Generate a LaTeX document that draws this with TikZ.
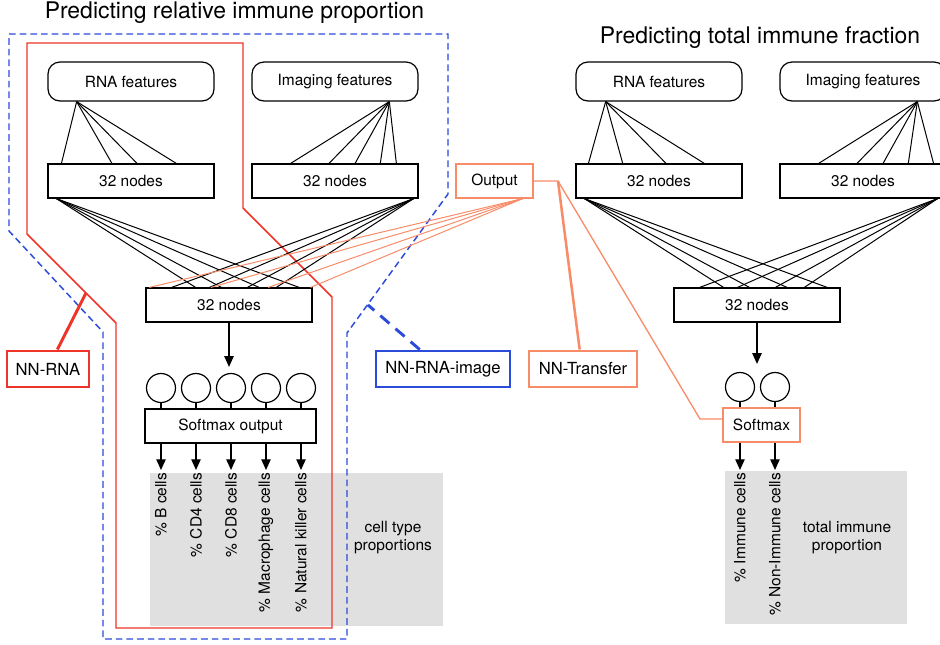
\documentclass[tikz,border=0pt]{standalone}
\usepackage{fontspec}
\setmainfont{TeX Gyre Heros}
\usetikzlibrary{calc,arrows.meta}
\definecolor{nnred}{HTML}{EE3329}
\definecolor{nnblue}{HTML}{2B4BDB}
\definecolor{nnorange}{HTML}{F88C69}
\definecolor{panelgray}{HTML}{E0E0E0}
\newcommand\lblfont{\fontsize{11.6}{13.5}\selectfont}
\newcommand\tagfont{\fontsize{12.5}{15}\selectfont}
\newcommand\headfont{\fontsize{17.2}{20}\selectfont}
\begin{document}
\begin{tikzpicture}[x=0.75pt,y=-0.75pt,
  feat/.style={draw, rounded corners=9pt, line width=0.9pt, minimum width=124.5pt,
               minimum height=29.25pt, inner sep=0pt, font=\lblfont},
  layer/.style={draw, line width=0.9pt, minimum width=124.5pt, minimum height=25.5pt,
                inner sep=0pt, font=\lblfont},
  obox/.style={draw=nnorange, line width=1pt, minimum width=57.75pt, minimum height=25.5pt,
               inner sep=0pt, font=\lblfont},
  tagbox/.style={line width=2.2pt, minimum height=27pt, inner sep=0pt, font=\tagfont},
  unit/.style={draw, circle, line width=0.9pt, minimum size=21.75pt, inner sep=0pt},
  fan/.style={line width=0.75pt},
  ofan/.style={draw=nnorange, line width=0.75pt},
  arr/.style={line width=0.9pt, -{Triangle[length=8pt,width=7pt]}},
  vlabel/.style={rotate=90, anchor=east, inner sep=2pt, font=\lblfont},
  note/.style={align=center, font=\lblfont},
  head/.style={font=\headfont}]
\useasboundingbox (0,0) rectangle (940,644);
\clip (0,0) rectangle (940,644);

% grey panels behind the output labels
\fill[panelgray] (150,473) rectangle (443,626);
\fill[panelgray] (725,471) rectangle (907,624);

% titles
\node[head] (t1) at (234.5,13) {Predicting relative immune proportion};
\node[head] (t2) at (760,38) {Predicting total immune fraction};

% model outlines
\draw[nnred, line width=1.1pt]
  (27,43) -- (243,43) -- (243,208) -- (332,297) -- (332,628) -- (116,628)
  -- (116,323) -- (27,234) -- cycle;
\draw[nnblue, line width=1.1pt, dash pattern=on 5pt off 3pt]
  (9,34) -- (448,34) -- (448,194) -- (347,333) -- (347,639) -- (103,639)
  -- (103,332) -- (9,231) -- cycle;

% left network
\node[feat]  (lrna) at (131,81.5) {RNA features};
\node[feat]  (limg) at (335,81.5) {Imaging features};
\node[layer] (lh1)  at (131,181) {32 nodes};
\node[layer] (lh2)  at (335,181) {32 nodes};
\node[layer] (lh3)  at (229,305) {32 nodes};
\node[layer, minimum width=128.25pt] (lsm) at (230.5,426) {Softmax output};

\foreach \f in {0.084,0.386,0.536,0.771}
  \draw[fan] ($(lrna.south west)!0.175!(lrna.south east)$) -- ($(lh1.north west)!\f!(lh1.north east)$);
\foreach \f in {0.235,0.464,0.620,0.771,0.867}
  \draw[fan] ($(limg.south west)!0.825!(limg.south east)$) -- ($(lh2.north west)!\f!(lh2.north east)$);
\foreach \f in {0.30,0.455,0.68,0.92}
  \draw[fan] ($(lh1.south west)!0.054!(lh1.south east)$) -- ($(lh3.north west)!\f!(lh3.north east)$);
\foreach \f in {0.157,0.383,0.61,0.783}
  \draw[fan] ($(lh2.south west)!0.970!(lh2.south east)$) -- ($(lh3.north west)!\f!(lh3.north east)$);

% transfer output node
\node[obox] (out) at (494.5,181) {Output};
\foreach \f in {0.024,0.392,0.735,0.988}
  \draw[ofan] ($(out.south west)!0.857!(out.south east)$) -- ($(lh3.north west)!\f!(lh3.north east)$);

% left softmax units and outputs
\node[vlabel] (lab1) at (161,470) {\% B cells};
\node[vlabel] (lab2) at (196,470) {\% CD4 cells};
\node[vlabel] (lab3) at (231,470) {\% CD8 cells};
\node[vlabel] (lab4) at (266,470) {\% Macrophage cells};
\node[vlabel] (lab5) at (301,470) {\% Natural killer cells};
\foreach \i/\x in {1/161,2/196,3/231,4/266,5/301} {
  \node[unit] (lc\i) at (\x,388) {};
  \draw[line width=0.9pt] (lc\i.south) -- (lc\i.south |- lsm.north);
  \draw[arr] (lc\i.south |- lsm.south) -- (lab\i.east);
}
\draw[arr, shorten >=4.5pt] (lh3.south) -- (lh3.south |- lc3.north);
\node[note] (ctp) at (393,538) {cell type\\proportions};

% right network
\node[feat]  (rrna) at (659,81.5) {RNA features};
\node[feat]  (rimg) at (863,81.5) {Imaging features};
\node[layer] (rh1)  at (659,181) {32 nodes};
\node[layer] (rh2)  at (863,181) {32 nodes};
\node[layer] (rh3)  at (757,305) {32 nodes};
\node[obox]  (rsm)  at (761.5,425) {Softmax};

\foreach \f in {0.078,0.283,0.542,0.771}
  \draw[fan] ($(rrna.south west)!0.181!(rrna.south east)$) -- ($(rh1.north west)!\f!(rh1.north east)$);
\foreach \f in {0.235,0.464,0.620,0.771,0.922}
  \draw[fan] ($(rimg.south west)!0.825!(rimg.south east)$) -- ($(rh2.north west)!\f!(rh2.north east)$);
\foreach \f in {0.30,0.455,0.68,0.92}
  \draw[fan] ($(rh1.south west)!0.054!(rh1.south east)$) -- ($(rh3.north west)!\f!(rh3.north east)$);
\foreach \f in {0.157,0.383,0.61,0.783}
  \draw[fan] ($(rh2.south west)!0.946!(rh2.south east)$) -- ($(rh3.north west)!\f!(rh3.north east)$);

\node[vlabel] (rlab1) at (740,470) {\% Immune cells};
\node[vlabel] (rlab2) at (775,470) {\% Non-Immune cells};
\foreach \i/\x in {1/740,2/775} {
  \node[unit] (rc\i) at (\x,387) {};
  \draw[line width=0.9pt] (rc\i.south) -- (rc\i.south |- rsm.north);
  \draw[arr] (rc\i.south |- rsm.south) -- (rlab\i.east);
}
\draw[arr, shorten >=6pt] (rh3.south) -- (rh3.south |- rc1.north);
\node[note] (tip) at (847,538) {total immune\\proportion};

% model tags and their leaders
\node[tagbox, draw=nnred,    minimum width=61.5pt] (nnrna) at (48,369)  {NN-RNA};
\node[tagbox, draw=nnblue,   minimum width=100.5pt] (nnimg) at (443,369) {NN-RNA-image};
\node[tagbox, draw=nnorange, minimum width=81pt]   (nntr)  at (583,369) {NN-Transfer};

\coordinate (redtap)  at (86,293);
\coordinate (bluetap) at (368,305);
\coordinate (obr)     at (558,181);
\coordinate (obend)   at (700,419);

\draw[nnred, line width=2.2pt] ($(nnrna.north west)!0.61!(nnrna.north east)$) -- (redtap);
\draw[nnblue, line width=2.2pt, dash pattern=on 9pt off 6pt]
  ($(nnimg.north west)!0.33!(nnimg.north east)$) -- (bluetap);
\draw[nnorange, line width=1pt] (out.east) -- (obr) -- (obend)
  -- ($(rsm.north west)!0.33!(rsm.south west)$);
\draw[nnorange, line width=1.9pt] ($(nntr.north west)!0.47!(nntr.north east)$) -- (obr);
\end{tikzpicture}
\end{document}
